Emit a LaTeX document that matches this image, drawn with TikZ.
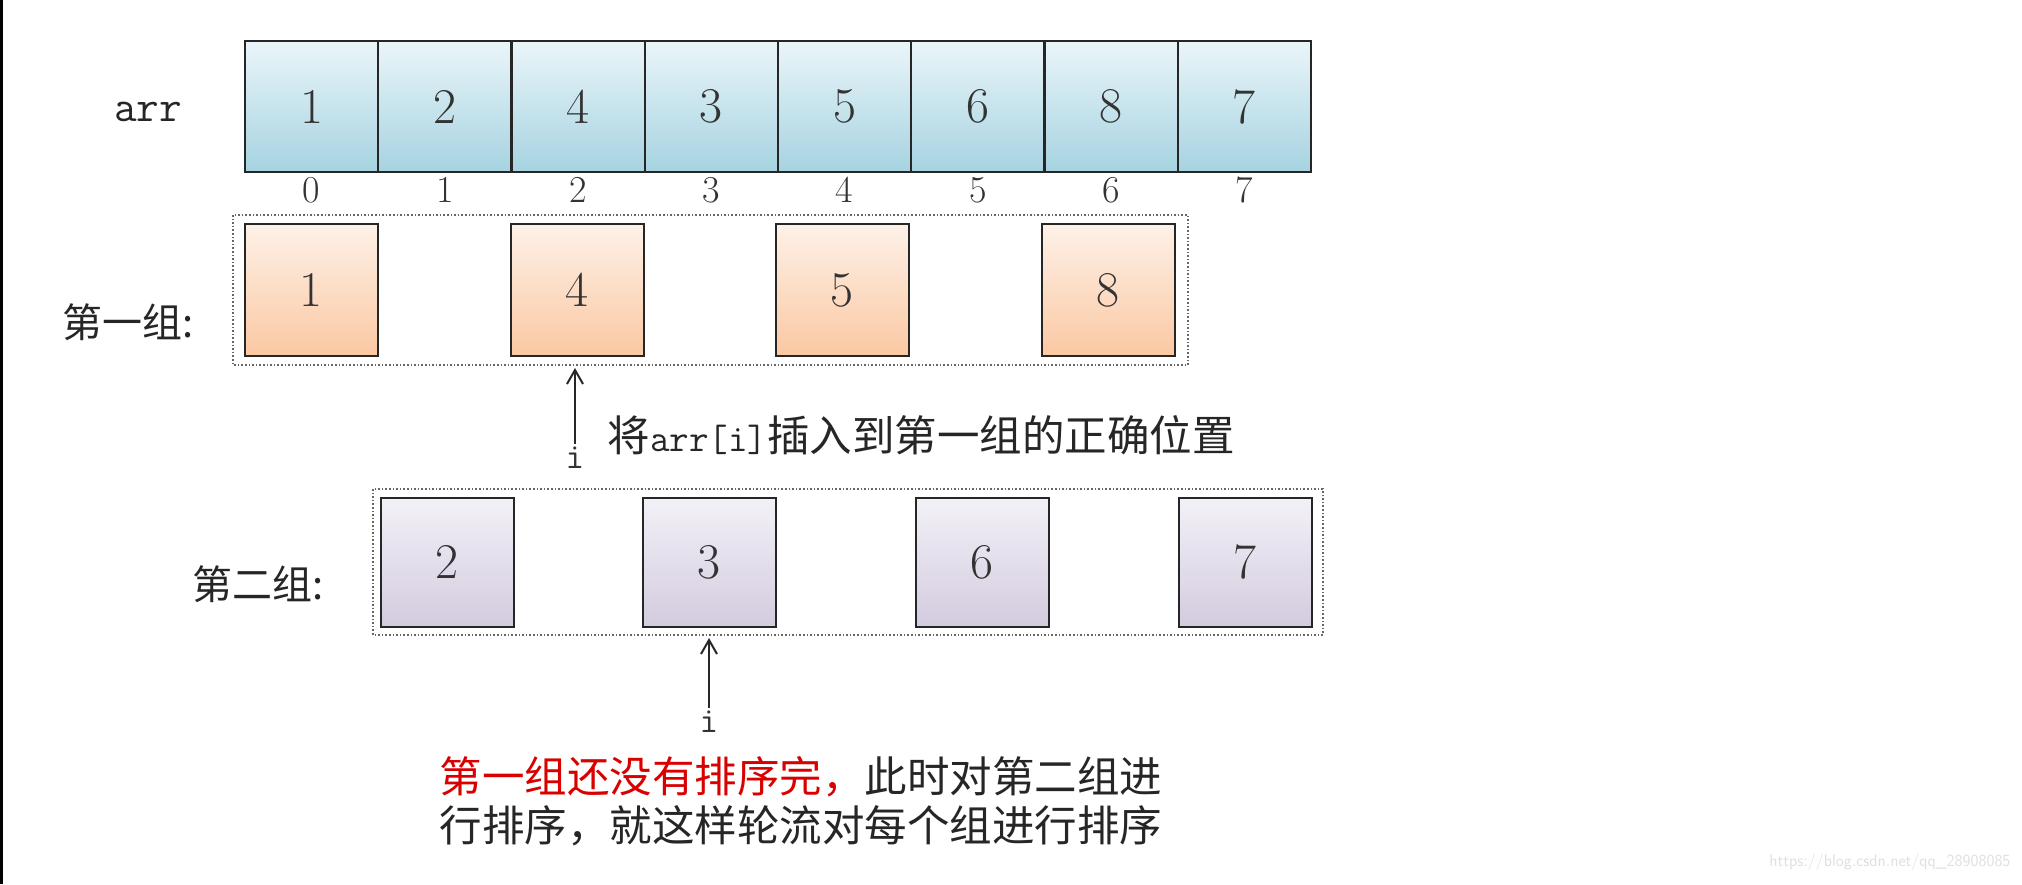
\documentclass[tikz,border=0pt]{standalone}
\usepackage{fontspec}
\newfontfamily\cjk{Noto Sans CJK SC}
\usetikzlibrary{arrows.meta}
\definecolor{bluetop}{HTML}{EAF5F9}\definecolor{bluebot}{HTML}{A6D3E1}
\definecolor{ortop}{HTML}{FDF1E8}\definecolor{orbot}{HTML}{FBC8A2}
\definecolor{putop}{HTML}{F3F1F7}\definecolor{pubot}{HTML}{D3CBDF}
\begin{document}
\begin{tikzpicture}[x=1pt,y=-1pt,
  cell/.style={draw=black!85,line width=2pt,minimum width=133pt,minimum height=131pt,inner sep=0pt,font=\fontsize{50}{50}\selectfont,text=black!80},
  bcell/.style={cell,top color=bluetop,bottom color=bluebot},
  ocell/.style={cell,minimum height=132pt,top color=ortop,bottom color=orbot},
  pcell/.style={cell,minimum height=129pt,top color=putop,bottom color=pubot},
  idx/.style={font=\fontsize{38}{38}\selectfont,text=black!80},
  grp/.style={draw=black!60,line width=1.6pt,dotted},
  lab/.style={font=\cjk\fontsize{40}{40}\selectfont,text=black!85},
  msg/.style={lab,anchor=west,font=\cjk\fontsize{42.5}{42.5}\selectfont},
  arr/.style={-{Straight Barb[length=14pt,width=16pt,line width=2pt]},line width=2pt,black!85}]
\useasboundingbox (0,0) rectangle (2022,884);
\fill[white] (0,0) rectangle (2022,884);
\draw[black,line width=3pt] (1,0) -- (1,884);
\node[font=\ttfamily\fontsize{44}{44}\selectfont,text=black!85] (arrlab) at (148,112) {arr};
\foreach \v [count=\k from 0] in {1,2,4,3,5,6,8,7}{
  \node[bcell] (a\k) at (245+66.5+133.25*\k,106.5) {\v};
  \node[idx] (i\k) at (245+66.5+133.25*\k,190) {\k};
}
\draw[grp] (233,215) rectangle (1188,365);
\node[ocell] (g1) at (311,290) {1};
\node[ocell] (g2) at (577,290) {4};
\node[ocell] (g3) at (842,290) {5};
\node[ocell] (g4) at (1108,290) {8};
\node[lab] (l1) at (128,322) {第一组:};
\draw[grp] (373,489) rectangle (1323,635);
\node[pcell] (h1) at (447,562) {2};
\node[pcell] (h2) at (709,562) {3};
\node[pcell] (h3) at (982,562) {6};
\node[pcell] (h4) at (1245,562) {7};
\node[lab] (l2) at (258,584) {第二组:};
\node[idx,font=\ttfamily\fontsize{36}{36}\selectfont] (ia) at (575,458) {i};
\coordinate (ta) at (575,368);
\draw[arr] (ia.north) -- (ta);
\node[msg] (ma) at (604,435) {将{\ttfamily\fontsize{38}{38}\selectfont arr[i]}插入到第一组的正确位置};
\node[idx,font=\ttfamily\fontsize{36}{36}\selectfont] (ib) at (709,722) {i};
\coordinate (tb) at (709,638);
\draw[arr] (ib.north) -- (tb);
\node[msg] (mb) at (436,777) {\textcolor{red!85!black}{第一组还没有排序完，}此时对第二组进};
\node[msg] (mc) at (436,826) {行排序，就这样轮流对每个组进行排序};
\node[font=\fontsize{17}{17}\selectfont\sffamily,text=black!12,anchor=east] (wm) at (2014,862) {https://blog.csdn.net/qq\_28908085};
\end{tikzpicture}
\end{document}
